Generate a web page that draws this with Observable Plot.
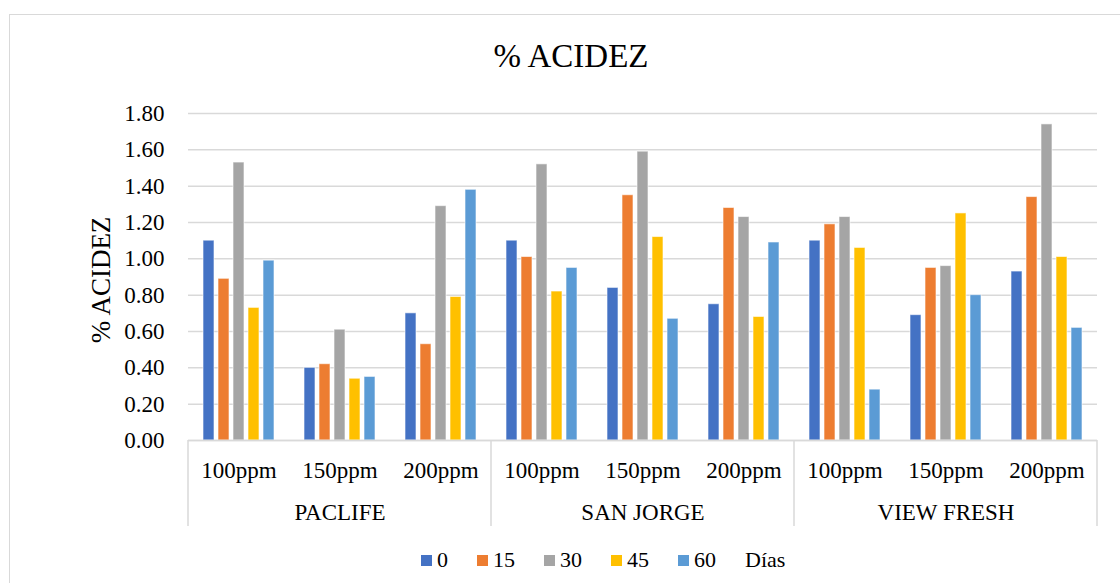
<!DOCTYPE html>
<html>
<head>
<meta charset="utf-8">
<script src="https://cdn.jsdelivr.net/npm/d3@7"></script>
<script src="https://cdn.jsdelivr.net/npm/@observablehq/plot@0.6"></script>
<style>
  html, body { margin: 0; padding: 0; background: #fff; overflow: hidden; }
  #wrap { position: relative; width: 1120px; height: 583px; color: #000; font-family: 'Liberation Serif'; }
  #border { position: absolute; left: 9px; top: 14px; width: 1200px; height: 700px; border: 1.5px solid #d9d9d9; box-sizing: border-box; }
  #title { position: absolute; left: 0; width: 1142px; top: 40px; text-align: center; font-size: 33px; line-height: 1; white-space: nowrap; font-family: 'Liberation Serif'; }
  #ylabel { position: absolute; left: 101px; top: 280px; font-size: 27px; line-height: 1; white-space: nowrap; transform: translate(-50%, -50%) rotate(-90deg); font-family: 'Liberation Serif'; }
  #chart { position: absolute; left: 0; top: 0; }
  #legend { position: absolute; left: 421px; top: 548px; height: 24px; display: flex; align-items: center; font-size: 22px; line-height: 24px; white-space: nowrap; font-family: 'Liberation Serif'; }
  #legend .sw { width: 11px; height: 11px; display: inline-block; margin-right: 5px; }
  #legend .it { display: flex; align-items: center; margin-right: 29px; font-family: 'Liberation Serif'; }
  #legend .unit { font-family: 'Liberation Serif'; }
</style>
</head>
<body>
<div id="wrap">
  <div id="border"></div>
  <div id="chart"></div>
  <div id="title">% ACIDEZ</div>
  <div id="ylabel">% ACIDEZ</div>
  <div id="legend"></div>
</div>
<script>
// ---- data ----
const groups = ["PACLIFE", "SAN JORGE", "VIEW FRESH"];
const doses = ["100ppm", "150ppm", "200ppm"];
const days = ["0", "15", "30", "45", "60"];
const colors = ["#4472C4", "#ED7D31", "#A5A5A5", "#FFC000", "#5B9BD5"];
const yTicks = [0, 0.2, 0.4, 0.6, 0.8, 1.0, 1.2, 1.4, 1.6, 1.8];
const unitLabel = "Días";
// values per day, ordered PACLIFE(100,150,200), SAN JORGE(100,150,200), VIEW FRESH(100,150,200)
const day0  = [1.10, 0.40, 0.70, 1.10, 0.84, 0.75, 1.10, 0.69, 0.93];
const day15 = [0.89, 0.42, 0.53, 1.01, 1.35, 1.28, 1.19, 0.95, 1.34];
const day30 = [1.53, 0.61, 1.29, 1.52, 1.59, 1.23, 1.23, 0.96, 1.74];
const day45 = [0.73, 0.34, 0.79, 0.82, 1.12, 0.68, 1.06, 1.25, 1.01];
const day60 = [0.99, 0.35, 1.38, 0.95, 0.67, 1.09, 0.28, 0.80, 0.62];
const series = [day0, day15, day30, day45, day60];

// ---- table ----
const keys = [];
groups.forEach(g => doses.forEach(d => keys.push(g + "|" + d)));
const data = [];
series.forEach((vals, si) => vals.forEach((v, ki) => data.push({key: keys[ki], day: days[si], value: v})));

const chart = Plot.plot({
  width: 1120,
  height: 583,
  marginLeft: 185,
  marginRight: 21,
  marginTop: 113,
  marginBottom: 143,
  style: {fontFamily: "Liberation Serif", fontSize: "23px", color: "#000", background: "transparent", overflow: "visible"},
  fx: {domain: keys, padding: 0, label: null, axis: "bottom", tickSize: 0, tickPadding: 21, tickFormat: k => k.split("|")[1]},
  x: {domain: days, paddingInner: 0.234, paddingOuter: 0.857, axis: null},
  y: {domain: [0, 1.8], ticks: yTicks, tickFormat: d => d.toFixed(2), tickSize: 0, tickPadding: 24, label: null, axis: "left"},
  color: {domain: days, range: colors},
  marks: [
    Plot.ruleY(yTicks, {stroke: "#d9d9d9", strokeWidth: 1.5}),
    Plot.barY(data, {fx: "key", x: "day", y: "value", fill: "day", stroke: "#ffffff", strokeOpacity: 0.6, strokeWidth: 1}),
    Plot.ruleY([0], {stroke: "#d9d9d9", strokeWidth: 1.5}),
    Plot.text(groups, {fx: g => g + "|" + doses[1], text: d => d, frameAnchor: "bottom", lineAnchor: "top", dy: 63, fontSize: 23, fill: "#000"})
  ]
});
document.getElementById("chart").appendChild(chart);

// group separators in the category axis box, placed with Plot's own scales
const svg = chart.tagName.toLowerCase() === "svg" ? chart : chart.querySelector("svg");
const fx = chart.scale("fx");
const yS = chart.scale("y");
const y0 = yS.apply(0);
const edges = groups.map(g => fx.apply(g + "|" + doses[0]));
edges.push(fx.apply(keys[keys.length - 1]) + fx.bandwidth);
d3.select(svg).append("g").selectAll("line").data(edges).join("line")
  .attr("x1", d => d).attr("x2", d => d)
  .attr("y1", y0).attr("y2", y0 + 86)
  .attr("stroke", "#d9d9d9").attr("stroke-width", 1.5);

// legend
const leg = document.getElementById("legend");
days.forEach((d, i) => {
  const it = document.createElement("span");
  it.className = "it";
  it.innerHTML = `<span class="sw" style="background:${colors[i]}"></span><span style="font-family:'Liberation Serif'">${d}</span>`;
  leg.appendChild(it);
});
const u = document.createElement("span");
u.className = "unit";
u.textContent = unitLabel;
leg.appendChild(u);
</script>
</body>
</html>
